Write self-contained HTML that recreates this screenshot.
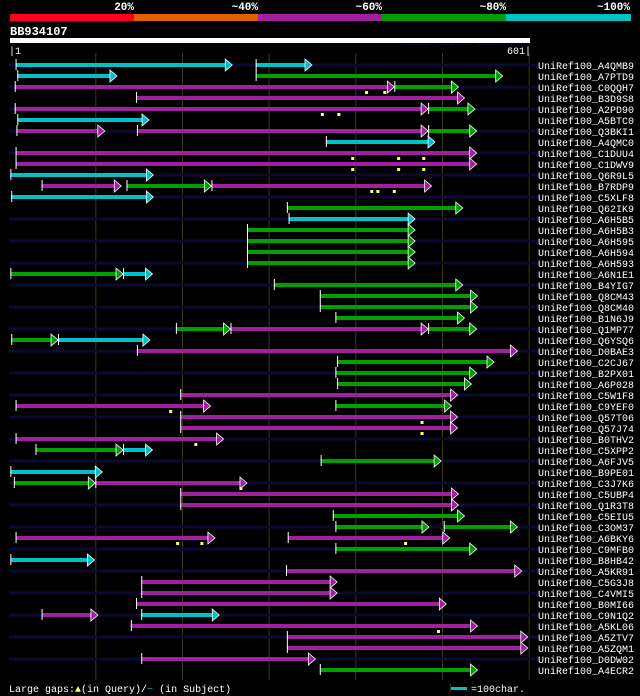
<!DOCTYPE html>
<html><head><meta charset="utf-8"><style>
html,body{margin:0;padding:0;background:#000;width:640px;height:696px;overflow:hidden}
svg{display:block}
text{font-family:"Liberation Mono",monospace}
</style></head><body>
<svg id="chart" width="640" height="696" viewBox="0 0 640 696" xmlns="http://www.w3.org/2000/svg">
<g id="header">
<rect x="10" y="14" width="124" height="7" fill="#ff0022"/>
<rect x="134" y="14" width="124" height="7" fill="#e06000"/>
<rect x="258" y="14" width="124" height="7" fill="#a020a0"/>
<rect x="382" y="14" width="124" height="7" fill="#00a000"/>
<rect x="506" y="14" width="125" height="7" fill="#00c0c8"/>
<g font-size="11" font-weight="bold" fill="#fff" text-anchor="end">
<text x="134" y="10">20%</text>
<text x="258" y="10">~40%</text>
<text x="382" y="10">~60%</text>
<text x="506" y="10">~80%</text>
<text x="630" y="10">~100%</text>
</g>
<text x="10" y="35" font-size="12" font-weight="bold" fill="#fff">BB934107</text>
<text x="530" y="45" font-size="9" fill="#0a0a40" text-anchor="end">AlignView.pm Beta rel.7</text>
<rect x="10" y="38" width="520" height="5" fill="#fff"/>
<text x="9" y="54" font-size="10" fill="#fff">|1</text>
<text x="531" y="54" font-size="10" fill="#fff" text-anchor="end">601|</text>
</g>
<g id="grid"></g>
<g id="rows"></g>
<g>
<text x="9" y="692" font-size="10" fill="#fff">Large gaps:<tspan fill="#ffff66">▲</tspan>(in Query)/<tspan fill="#00c0c8">−</tspan> (in Subject)</text>
<rect x="451" y="687" width="16" height="3" fill="#00c0c8"/>
<line x1="450.5" y1="684" x2="450.5" y2="692" stroke="#3a3a14"/>
<text x="471" y="692" font-size="10" fill="#fff">=100char.</text>
</g>
</svg>
<script>
const rowNames=["A4QMB9","A7PTD9","C0QQH7","B3D9S8","A2PD90","A5BTC0","Q3BKI1","A4QMC0","C1DUU4","C1DWV9","Q6R9L5","B7RDP9","C5XLF8","Q62IK9","A6H5B5","A6H5B3","A6H595","A6H594","A6H593","A6N1E1","B4YIG7","Q8CM43","Q8CM40","B1N6J9","Q1MP77","Q6YSQ6","D0BAE3","C2CJ67","B2PX01","A6P028","C5W1F8","C9YEF0","Q57T06","Q57J74","B0THV2","C5XPP2","A6FJV5","B9PE01","C3J7K6","C5UBP4","Q1R3T8","C5EIU5","C3OM37","A6BKY6","C9MFB0","B8HB42","A5KR91","C5G3J8","C4VMI5","B0MI66","C9N1Q2","A5KL06","A5ZTV7","A5ZQM1","D0DW02","A4ECR2"];
const gridTicks=[100,200,300,400,500,600];
const segRow=[0,0,1,1,2,2,3,4,4,5,6,6,6,7,8,9,10,11,11,11,12,13,14,15,16,17,18,19,19,20,21,22,23,24,24,24,25,25,26,27,28,29,30,31,31,32,33,34,35,35,36,37,38,38,39,40,41,42,42,43,43,44,45,46,47,48,49,50,50,51,52,53,54,55];
const segStart=[8,285,10,285,7,445,147,7,484,10,9,148,484,366,8,8,2,38,136,234,3,321,323,275,275,275,275,2,132,306,359,359,377,193,256,484,3,57,148,379,377,379,198,8,377,198,198,8,31,132,360,2,6,100,198,198,374,377,502,8,322,377,2,320,153,153,147,38,153,141,321,321,153,359];
const segEnd=[258,350,125,570,445,519,526,484,538,162,111,484,540,492,540,540,167,130,234,488,167,524,469,469,469,469,469,132,166,524,541,541,526,256,484,540,57,163,587,560,540,534,518,233,511,518,518,248,132,166,499,108,100,275,519,519,526,485,587,238,509,540,99,592,379,379,505,103,243,541,599,599,354,541];
const segIdentity=["c","c","c","g","m","g","m","m","g","c","m","m","g","c","m","m","c","m","g","m","c","g","c","g","g","g","g","g","c","g","g","g","g","g","m","g","g","c","m","g","g","g","m","m","g","m","m","m","g","c","g","c","g","m","m","m","g","g","g","m","m","g","c","m","m","m","m","m","c","m","m","m","m","g"];
const gapRow=[2,2,4,4,8,8,8,9,9,9,11,11,11,31,32,33,34,38,43,43,43,51];
const gapPos=[413,434,362,381,397,450,479,397,450,479,419,426,445,187,477,477,216,268,195,223,458,496];

const NS="http://www.w3.org/2000/svg";
const colors={c:"#00c0c8",g:"#00a000",m:"#a020a0"};
const xs=r=>9.5+(r-1)*0.8667;
const ys=i=>65+i*11;
function mk(tag,attrs,parent){const e=document.createElementNS(NS,tag);for(const k in attrs)e.setAttribute(k,attrs[k]);parent.appendChild(e);return e;}
const grid=document.getElementById('grid'),rows=document.getElementById('rows');
gridTicks.forEach(t=>{
  const l=mk('line',{x1:xs(t)+0.5,x2:xs(t)+0.5,y1:53,y2:680,stroke:'#3a3a14','stroke-width':1},grid);
  
  
});
rowNames.forEach((n,i)=>{
  if(i%2===0){
    const t=mk('rect',{x:9,y:ys(i)-1.5,width:530,height:3,fill:'#0a0a35'},rows);
    
    
  }
  const tx=mk('text',{x:538,y:ys(i)+4,'font-size':10,fill:'#fff'},rows);
  tx.textContent='UniRef100_'+n;
  
  
});
segRow.forEach((r,k)=>{
  const y=ys(r),x0=xs(segStart[k]),x1=xs(segEnd[k]),col=colors[segIdentity[k]];
  const g=mk('g',{},rows);
  
  
  mk('rect',{x:x0,y:y-2,width:Math.max(0,x1-x0-6),height:4,fill:col},g);
  mk('line',{x1:x0+0.5,x2:x0+0.5,y1:y-6,y2:y+5,stroke:'#fff','stroke-width':1},g);
  mk('polygon',{points:`${x1-7},${y-6} ${x1},${y} ${x1-7},${y+6}`,fill:col,stroke:'#fff','stroke-width':0.8},g);
});
gapRow.forEach((r,k)=>{
  const m=mk('rect',{x:xs(gapPos[k])-1.5,y:ys(r)+4,width:3,height:3,fill:'#ffff66'},rows);
  
  
});
</script>
</body></html>
